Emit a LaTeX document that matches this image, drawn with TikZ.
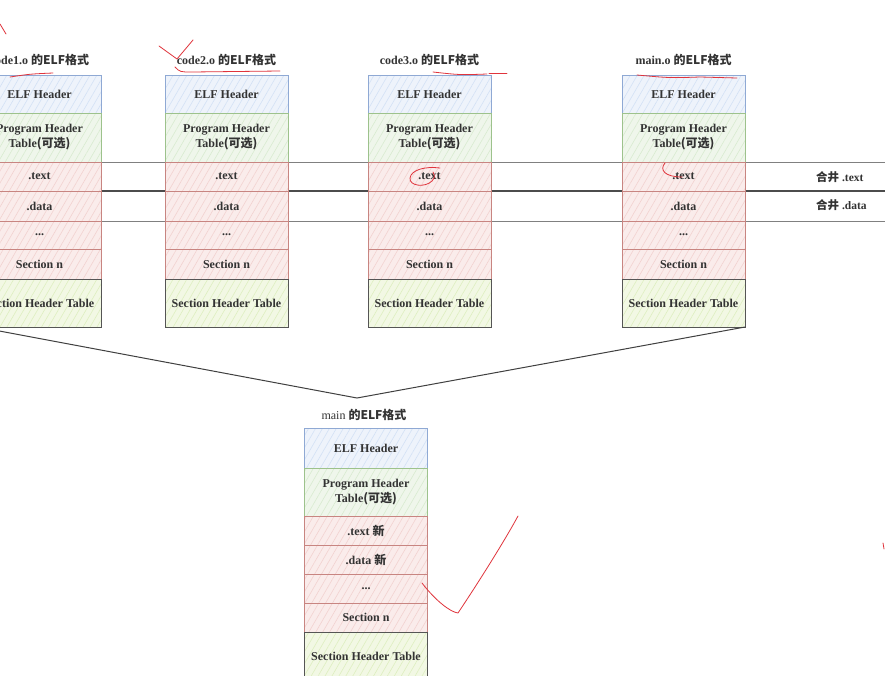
\documentclass[tikz,border=0pt]{standalone}
\usepackage{fontspec}
\setmainfont{Liberation Serif}
\newfontfamily\cjk{Noto Sans CJK SC}
\usetikzlibrary{patterns.meta}
\definecolor{txt}{HTML}{333333}
\definecolor{bluefill}{HTML}{EEF3FB}
\definecolor{bluehatch}{HTML}{D3E1F5}
\definecolor{blueline}{HTML}{8FA9D4}
\definecolor{greenfill}{HTML}{EFF6EB}
\definecolor{greenhatch}{HTML}{D8EBD0}
\definecolor{greenline}{HTML}{9DC28C}
\definecolor{redfill}{HTML}{FAECEB}
\definecolor{redhatch}{HTML}{F2D2D0}
\definecolor{redline}{HTML}{C88581}
\definecolor{shtfill}{HTML}{F2F8E4}
\definecolor{shthatch}{HTML}{DEEFC0}
\definecolor{shtline}{HTML}{555555}
\definecolor{ink}{HTML}{E0343C}
\tikzset{
  cell/.style={line width=0.9pt, minimum width=123pt, inner sep=0pt, outer sep=0pt,
    align=center, text=txt, font=\fontsize{12}{15}\selectfont\bfseries},
  hdrbox/.style={cell, draw=blueline, preaction={fill=bluefill},
    pattern={Lines[angle=60,distance=6pt,line width=0.6pt]}, pattern color=bluehatch},
  phbox/.style={cell, draw=greenline, preaction={fill=greenfill},
    pattern={Lines[angle=60,distance=6pt,line width=0.6pt]}, pattern color=greenhatch},
  secbox/.style={cell, draw=redline, preaction={fill=redfill},
    pattern={Lines[angle=60,distance=6pt,line width=0.6pt]}, pattern color=redhatch},
  shtbox/.style={cell, draw=shtline, preaction={fill=shtfill},
    pattern={Lines[angle=60,distance=6pt,line width=0.6pt]}, pattern color=shthatch},
  titlelbl/.style={text=txt, inner sep=0pt, font=\fontsize{12}{14}\selectfont\bfseries},
  mergelbl/.style={text=txt, inner sep=0pt, anchor=west, font=\fontsize{11.5}{14}\selectfont\bfseries},
  guide/.style={draw=black!50, line width=1pt},
  guidedark/.style={draw=black!70, line width=1.4pt},
  funnel/.style={draw=black!75, line width=1pt},
  scrib/.style={draw=ink, line width=0.8pt, line cap=round, line join=round},
}
\newcommand\topstack[3]{%
  \node[titlelbl] (#2t) at (#1,60) {#3 {\cjk\bfseries 的ELF格式}};
  \node[hdrbox, minimum height=38pt] (#2h) at (#1,94) {ELF Header};
  \node[phbox, minimum height=49pt] (#2p) at (#1,137.5) {Program Header\\Table{\cjk\bfseries (可选)}};
  \node[secbox, minimum height=29pt] (#2x) at (#1,176.5) {.text};
  \node[secbox, minimum height=30pt] (#2d) at (#1,206) {.data};
  \node[secbox, minimum height=28pt] (#2e) at (#1,235) {...};
  \node[secbox, minimum height=30pt] (#2n) at (#1,264) {Section n};
  \node[shtbox, minimum height=48pt] (#2s) at (#1,303) {Section Header Table};
}
\begin{document}
\begin{tikzpicture}[x=1pt,y=-1pt]
\useasboundingbox (0,0) rectangle (885,675);
\fill[white] (0,0) rectangle (885,675);
% guide lines across
\coordinate (g1a) at (0,162); \coordinate (g1b) at (885,162);
\coordinate (g2a) at (0,191); \coordinate (g2b) at (885,191);
\coordinate (g3a) at (0,221); \coordinate (g3b) at (885,221);
\draw[guide] (g1a) -- (g1b);
\draw[guidedark] (g2a) -- (g2b);
\draw[guide] (g3a) -- (g3b);
% stacks
\topstack{39.5}{a}{code1.o}
\topstack{226.5}{b}{code2.o}
\topstack{429.5}{c}{code3.o}
\topstack{683.5}{d}{main.o}
% merge labels
\node[mergelbl] (m1) at (816,177) {{\cjk\bfseries 合井} .text};
\node[mergelbl] (m2) at (816,205) {{\cjk\bfseries 合井} .data};
% funnel
\coordinate (apex) at (357,398);
\draw[funnel] (as.south west) -- (apex) -- (ds.south east);
% bottom stack
\node[titlelbl] (ft) at (364,415) {{\mdseries main} {\cjk\bfseries 的ELF格式}};
\node[hdrbox, minimum height=40pt] (fh) at (366,448) {ELF Header};
\node[phbox, minimum height=48pt] (fp) at (366,492) {Program Header\\Table{\cjk\bfseries (可选)}};
\node[secbox, minimum height=29pt] (fx) at (366,530.5) {.text {\cjk\bfseries 新}};
\node[secbox, minimum height=29pt] (fd) at (366,559.5) {.data {\cjk\bfseries 新}};
\node[secbox, minimum height=29pt] (fe) at (366,588.5) {...};
\node[secbox, minimum height=29pt] (fn) at (366,617.5) {Section n};
\node[shtbox, minimum height=48pt] (fs) at (366,656) {Section Header Table};
% red hand annotations
\draw[scrib] (0,24) -- (6,34);
\draw[scrib] (10,77) .. controls (30,74) .. (53,73);
\draw[scrib] (159,46) .. controls (168,52) .. (177,59) .. controls (185,50) .. (193,40);
\draw[scrib] (175,67) .. controls (180,72) .. (192,72) -- (280,71);
\draw[scrib] (433,72) .. controls (460,75) .. (487,74);
\draw[scrib] (489,73) -- (507,73);
\draw[scrib] (440,168) .. controls (425,166) and (411,170) .. (410,178) .. controls (409,186) and (425,188) .. (432,181) .. controls (435,177) .. (433,172);
\draw[scrib] (637,75) .. controls (670,78) .. (700,77) -- (737,78);
\draw[scrib] (665,163) .. controls (659,170) and (665,177) .. (682,177);
\draw[scrib] (422,583) .. controls (435,600) and (450,612) .. (458,613) .. controls (480,580) and (505,540) .. (518,516);
\draw[scrib] (883,543) -- (884,549);
\end{tikzpicture}
\end{document}
